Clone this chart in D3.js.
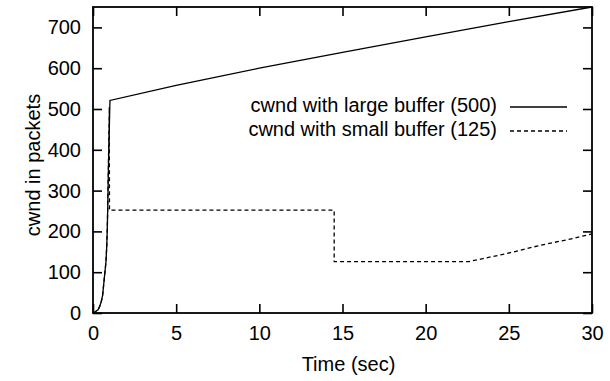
<!DOCTYPE html>
<html>
<head>
<meta charset="utf-8">
<script src="https://cdn.jsdelivr.net/npm/d3@7"></script>
<style>
  html, body { margin: 0; padding: 0; background: #fff; }
  svg { display: block; }
  text { font-family: "Liberation Sans", Arial, Helvetica, sans-serif; fill: #000; }
</style>
</head>
<body>
<svg id="chart" width="610" height="381"></svg>
<script>
// cwnd traces (time in seconds, window in packets)
const largeTime = [0, 0.14, 0.3, 0.4, 0.5, 0.58, 0.64, 0.72, 0.78, 0.83, 0.86, 0.88, 0.95, 1.02, 5, 10, 15, 20, 25, 30];
const largeCwnd = [0, 3, 8, 16, 28, 44, 69, 101, 126, 167, 208, 248, 400, 521, 558, 600, 639, 677, 714, 750];

const smallTime = [0, 0.14, 0.3, 0.4, 0.5, 0.58, 0.64, 0.72, 0.78, 0.83, 0.86, 0.88, 0.94, 0.98, 0.99, 14.5, 14.5, 22.6, 24.9, 26.9, 28.9, 30];
const smallCwnd = [0, 3, 8, 16, 28, 44, 69, 101, 126, 167, 208, 248, 400, 505, 252, 252, 126, 126, 146, 166, 183, 194];

const xTicks = [0, 5, 10, 15, 20, 25, 30];
const yTicks = [0, 100, 200, 300, 400, 500, 600, 700];

const legendLabels = ["cwnd with large buffer (500)", "cwnd with small buffer (125)"];

const svg = d3.select("#chart");
const plotLeft = 93, plotRight = 592, plotTop = 7, plotBottom = 313;
const fontSize = 20;

const x = d3.scaleLinear().domain([0, 30]).range([plotLeft, plotRight]);
const y = d3.scaleLinear().domain([0, 750]).range([plotBottom, plotTop]);

const tickLen = 9;

// axes with inward ticks, mirrored on top and right
const gx = svg.append("g").attr("transform", `translate(0,${plotBottom})`)
  .call(d3.axisBottom(x).tickValues(xTicks).tickSizeInner(-tickLen).tickSizeOuter(0).tickPadding(13).tickFormat(d3.format("d")));
const gy = svg.append("g").attr("transform", `translate(${plotLeft},0)`)
  .call(d3.axisLeft(y).tickValues(yTicks).tickSizeInner(-tickLen).tickSizeOuter(0).tickPadding(12).tickFormat(d3.format("d")));
const gxt = svg.append("g").attr("transform", `translate(0,${plotTop})`)
  .call(d3.axisTop(x).tickValues(xTicks).tickSizeInner(-tickLen).tickSizeOuter(0).tickFormat(""));
const gyr = svg.append("g").attr("transform", `translate(${plotRight},0)`)
  .call(d3.axisRight(y).tickValues(yTicks).tickSizeInner(-tickLen).tickSizeOuter(0).tickFormat(""));

[gx, gy, gxt, gyr].forEach(g => {
  g.select(".domain").remove();
  g.selectAll(".tick line").attr("stroke", "#000").attr("stroke-width", 1.6);
  g.selectAll("text").attr("font-size", fontSize).attr("font-family", null).attr("fill", "#000");
});

// frame
svg.append("rect")
  .attr("x", plotLeft).attr("y", plotTop)
  .attr("width", plotRight - plotLeft).attr("height", plotBottom - plotTop)
  .attr("fill", "none").attr("stroke", "#000").attr("stroke-width", 1.8);

// axis titles
svg.append("text")
  .attr("x", (plotLeft + plotRight) / 2 + 6).attr("y", 371)
  .attr("text-anchor", "middle").attr("font-size", fontSize)
  .text("Time (sec)");
svg.append("text")
  .attr("transform", "translate(40,165) rotate(-90)")
  .attr("text-anchor", "middle").attr("font-size", fontSize)
  .text("cwnd in packets");

// data lines
const line = d3.line().x(d => x(d[0])).y(d => y(d[1]));
const largeData = d3.zip(largeTime, largeCwnd);
const smallData = d3.zip(smallTime, smallCwnd);

svg.append("path").datum(smallData)
  .attr("d", line).attr("fill", "none").attr("stroke", "#000")
  .attr("stroke-width", 1.3).attr("stroke-dasharray", "4,3");
svg.append("path").datum(largeData)
  .attr("d", line).attr("fill", "none").attr("stroke", "#000")
  .attr("stroke-width", 1.3);

// legend
const legendY = [112, 136];
const sampleY = [107, 131];
legendLabels.forEach((label, i) => {
  svg.append("text")
    .attr("x", 497).attr("y", legendY[i])
    .attr("text-anchor", "end").attr("font-size", fontSize)
    .text(label);
  svg.append("line")
    .attr("x1", 510).attr("x2", 567)
    .attr("y1", sampleY[i]).attr("y2", sampleY[i])
    .attr("stroke", "#000").attr("stroke-width", 1.3)
    .attr("stroke-dasharray", i === 1 ? "4,3" : null);
});
</script>
</body>
</html>
